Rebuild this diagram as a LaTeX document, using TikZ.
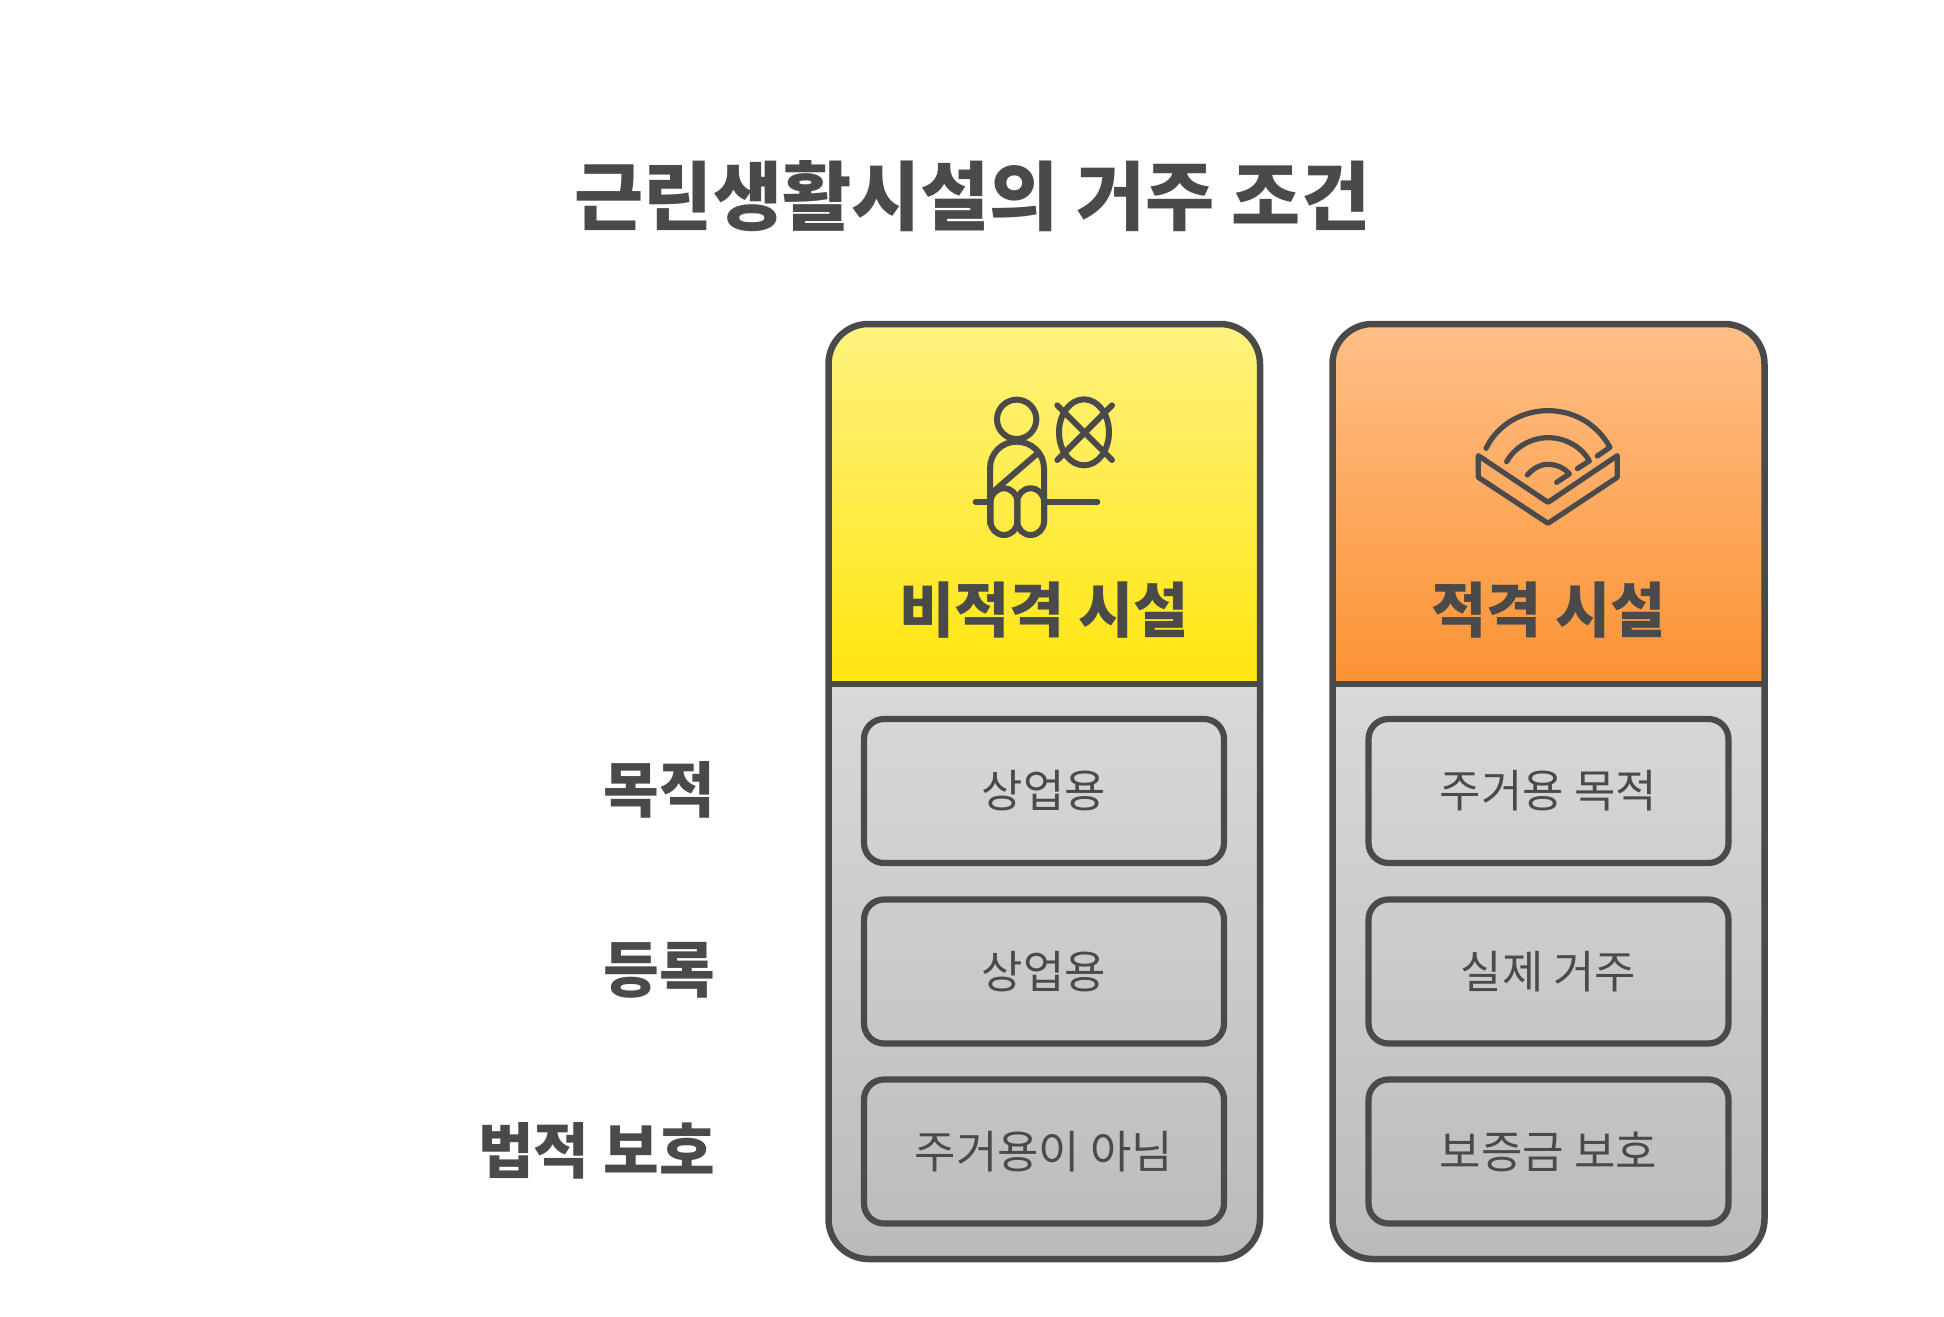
\documentclass[tikz,border=0pt]{standalone}
\usepackage{fontspec}
\setmainfont{Noto Sans CJK KR}
\usepackage{tikz}
\usetikzlibrary{positioning}
\definecolor{inkgray}{HTML}{4A4A4A}
\definecolor{yellowtop}{HTML}{FFF280}
\definecolor{yellowbot}{HTML}{FFE60F}
\definecolor{orangetop}{HTML}{FFBF87}
\definecolor{orangebot}{HTML}{FB9334}
\definecolor{graytop}{HTML}{D9D9D9}
\definecolor{graybot}{HTML}{BBBBBB}
\tikzset{cardline/.style={draw=inkgray,line width=6.5pt,rounded corners=40pt}}
\tikzset{rowbox/.style={draw=inkgray,line width=6.2pt,rounded corners=20pt,minimum width=360pt,minimum height=144pt,inner sep=0pt,text=inkgray,font=\fontsize{45}{45}\selectfont}}
\tikzset{rowlabel/.style={anchor=east,inner sep=0pt,text=inkgray,font=\fontsize{60.5}{60.5}\selectfont\bfseries}}
\tikzset{cardtitle/.style={inner sep=0pt,text=inkgray,font=\fontsize{60}{60}\selectfont\bfseries}}
\tikzset{iconline/.style={draw=inkgray,line width=6pt,line cap=round,line join=round}}
\begin{document}
\begin{tikzpicture}[x=1pt,y=-1pt]
    \useasboundingbox (0,0) rectangle (1944,1317);
    \node[inner sep=0pt,text=inkgray,font=\fontsize{75.2}{75.2}\selectfont\bfseries] (title) at (972.5,196) {근린생활시설의 거주 조건};
    % left card
    \path[top color=graytop,bottom color=graybot] (828.5,683) [rounded corners=40pt] -- (828.5,1259) -- (1260,1259) [sharp corners] -- (1260,683) -- cycle;
    \path[top color=yellowtop,bottom color=yellowbot] (828.5,683) [rounded corners=40pt] -- (828.5,324) -- (1260,324) [sharp corners] -- (1260,683) -- cycle;
    \draw[cardline] (828.5,324) rectangle (1260,1259);
    \draw[draw=inkgray,line width=6.5pt] (828.5,684) -- (1260,684);
    % right card
    \path[top color=graytop,bottom color=graybot] (1332.5,683) [rounded corners=40pt] -- (1332.5,1259) -- (1764.5,1259) [sharp corners] -- (1764.5,683) -- cycle;
    \path[top color=orangetop,bottom color=orangebot] (1332.5,683) [rounded corners=40pt] -- (1332.5,324) -- (1764.5,324) [sharp corners] -- (1764.5,683) -- cycle;
    \draw[cardline] (1332.5,324) rectangle (1764.5,1259);
    \draw[draw=inkgray,line width=6.5pt] (1332.5,684) -- (1764.5,684);
    % card titles
    \node[cardtitle] (unfit) at (1044,610.5) {비적격 시설};
    \node[cardtitle] (fit) at (1548.5,610.5) {적격 시설};
    % rows
    \node[rowlabel] (purpose) at (715,789.5) {목적};
    \node[rowlabel] (register) at (715,970.5) {등록};
    \node[rowlabel] (legal) at (715,1150.5) {법적 보호};
    \node[rowbox] (a1) at (1044,791) {상업용};
    \node[rowbox] (a2) at (1044,971.5) {상업용};
    \node[rowbox] (a3) at (1044,1151.5) {주거용이 아님};
    \node[rowbox] (b1) at (1548.5,791) {주거용 목적};
    \node[rowbox] (b2) at (1548.5,971.5) {실제 거주};
    \node[rowbox] (b3) at (1548.5,1151.5) {보증금 보호};
    % seated figure
    \begin{scope}[shift={(940,380)},x=0.3333pt,y=-0.3333pt]
        \draw[iconline] (230,118) circle[radius=59];
        \draw[iconline] (432,157) ellipse[x radius=75,y radius=99];
        \draw[iconline] (352,76) -- (516,240);
        \draw[iconline] (516,76) -- (352,240);
        \draw[iconline] (150,430) -- (150,265) .. controls (150,220) and (185,185) .. (230,185) .. controls (275,185) and (312,220) .. (312,265) -- (312,430);
        \draw[iconline] (152,325) [rounded corners=13.3pt] rectangle (232,465);
        \draw[iconline] (232,325) [rounded corners=13.3pt] rectangle (312,465);
        \draw[iconline] (295,218) -- (160,335);
        \draw[iconline] (107,365) -- (150,365);
        \draw[iconline] (312,365) -- (472,365);
    \end{scope}
    % field icon
    \begin{scope}[shift={(1460,390)},x=0.3333pt,y=-0.3333pt,iconline/.append style={line width=5.2pt}]
        \draw[iconline] (55,197) -- (55,262) -- (264,400) -- (472,262) -- (472,197) -- (264,337) -- cycle;
        \draw[iconline] (78,175) .. controls (115,100) and (190,62) .. (264,62) .. controls (340,62) and (410,100) .. (450,172) -- (412,198);
        \draw[iconline] (140,215) .. controls (165,170) and (215,143) .. (264,143) .. controls (315,143) and (365,170) .. (388,213) -- (352,236);
        \draw[iconline] (202,255) .. controls (220,235) and (240,223) .. (264,223) .. controls (290,223) and (315,235) .. (328,252) -- (290,277);
    \end{scope}
\end{tikzpicture}
\end{document}
